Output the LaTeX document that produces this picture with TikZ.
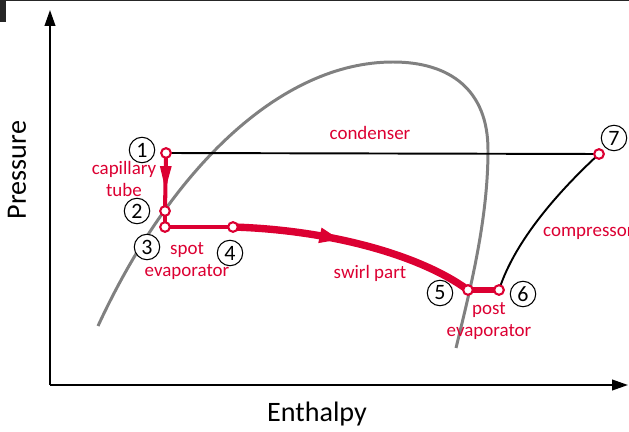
\documentclass[tikz,border=0pt]{standalone}
\usepackage{fontspec}
\setmainfont{Carlito}
\usetikzlibrary{arrows.meta,decorations.markings}

\definecolor{cyclered}{RGB}{220,0,50}
\definecolor{domegray}{RGB}{128,128,128}

\tikzset{
    ptmark/.style={circle, draw=cyclered, fill=white, line width=1.2pt, inner sep=0pt, minimum size=5.5pt},
    numcirc/.style={circle, draw=black, fill=white, line width=0.6pt, inner sep=0pt, minimum size=14.5pt, font=\fontsize{12.5}{14}\selectfont},
    redlbl/.style={text=cyclered, font=\fontsize{10.8}{12.5}\selectfont, align=center},
    axislbl/.style={font=\fontsize{16}{18}\selectfont},
    midarrow/.style 2 args={postaction={decorate, decoration={markings, mark=at position #1 with {\arrow{#2}}}}},
}

\begin{document}
\begin{tikzpicture}[x=0.02cm, y=-0.02cm]
    \useasboundingbox (0,0) rectangle (629,432);
    \fill[black!85] (0,0) rectangle (629,1.5);
    \fill[black!85] (0,0) rectangle (6,22);

    % axes
    \coordinate (origin) at (50,385);
    \coordinate (ytip) at (50,10);
    \coordinate (xtip) at (628,385);
    \draw[line width=1.1pt, -{Triangle[length=9pt, width=6pt]}] (origin) -- (ytip);
    \draw[line width=1.1pt, -{Triangle[length=9pt, width=6pt]}] (origin) -- (xtip);
    \node[axislbl, rotate=90] (pressure) at (17,170) {Pressure};
    \node[axislbl] (enthalpy) at (317,414) {Enthalpy};

    % saturation dome
    \draw[domegray, line width=1.7pt] (98,326) .. controls (170,170) and (280,62) .. (393,62)
        .. controls (450,62) and (488,90) .. (488,150)
        .. controls (488,220) and (470,290) .. (456,348);

    % cycle states
    \coordinate (p1) at (166,153);
    \coordinate (p2) at (165,211);
    \coordinate (p3) at (165,227);
    \coordinate (p4) at (233,227);
    \coordinate (p5) at (468,290);
    \coordinate (p6) at (499,290);
    \coordinate (p7) at (599,154);

    \draw[line width=1.1pt] (p1) -- (p7);
    \draw[line width=1.1pt] (p6) .. controls (515,240) and (560,190) .. (p7);

    \draw[cyclered, line width=2.3pt, midarrow={0.65}{Triangle[length=14pt, width=6pt]}] (p1) -- (p2);
    \draw[cyclered, line width=2.3pt] (p2) -- (p3) -- (p4);
    \draw[cyclered, line width=4.2pt, midarrow={0.44}{Triangle[length=12pt, width=8pt]}] (p4) .. controls (330,230) and (420,255) .. (p5);
    \draw[cyclered, line width=3.4pt] (p5) -- (p6);

    \foreach \i in {1,...,7}
        \node[ptmark] (m\i) at (p\i) {};

    % state numbers
    \node[numcirc] (n1) at (142,150) {1};
    \node[numcirc] (n2) at (137,211) {2};
    \node[numcirc] (n3) at (147,247) {3};
    \node[numcirc] (n4) at (230,253) {4};
    \node[numcirc] (n5) at (440,293) {5};
    \node[numcirc] (n6) at (523,294) {6};
    \node[numcirc] (n7) at (614,138) {7};

    % component labels
    \node[redlbl] (condenser) at (370,133) {condenser};
    \node[redlbl] (capillary) at (124,179) {capillary\\tube};
    \node[redlbl] (spot) at (187,261) {spot\\evaporator};
    \node[redlbl] (swirl) at (370,273) {swirl part};
    \node[redlbl] (post) at (489,321) {post\\evaporator};
    \node[redlbl, anchor=west] (compressor) at (537,233) {compressor};
\end{tikzpicture}
\end{document}
